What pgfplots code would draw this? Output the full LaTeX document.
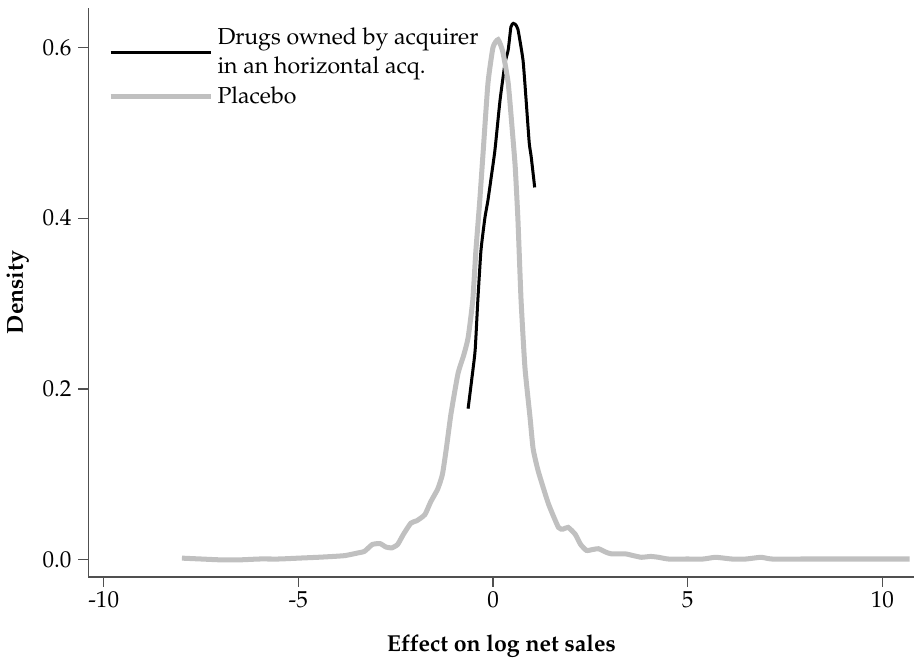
\documentclass[border=0pt]{standalone}
\usepackage[T1]{fontenc}
\usepackage{mathpazo}
\usepackage{pgfplots}
\pgfplotsset{compat=1.18}
\definecolor{placebo}{RGB}{192,192,192}
\definecolor{axisgray}{RGB}{80,80,80}

\begin{document}
\begin{tikzpicture}
\begin{axis}[
  scale only axis,
  width=411.5pt, height=283.5pt,
  font=\fontsize{11.5}{12.5}\selectfont,
  xmin=-10.39, xmax=10.82,
  ymin=-0.02, ymax=0.646,
  axis x line*=bottom, axis y line*=left,
  axis line style={axisgray, line width=0.7pt},
  tick style={axisgray, line width=0.6pt},
  tick align=outside, major tick length=5pt,
  xtick={-10,-5,0,5,10},
  ytick={0,0.2,0.4,0.6},
  /pgf/number format/assume math mode=true,
  yticklabel style={/pgf/number format/.cd, fixed, fixed zerofill, precision=1},
  xticklabel style={yshift=1.5pt, /pgf/number format/.cd, fixed},
  xlabel={\textbf{Effect on log net sales}},
  ylabel={\textbf{Density}},
  xlabel style={yshift=-6.5pt},
  ylabel style={yshift=0pt},
  legend style={at={(0.016,0.98)}, anchor=north west, draw=none, fill=none,
    row sep=1pt, font=\fontsize{11.5}{11}\selectfont},
  legend cell align=left,
  legend image code/.code={\draw[#1] (2pt,0pt) -- (45.5pt,0pt); \path (0pt,0pt) -- (50pt,0pt);},
]
\addplot[black, line width=1.5pt, smooth, tension=0.3] coordinates {
(-0.64,0.177) (-0.55,0.21) (-0.46,0.245) (-0.39,0.304) (-0.31,0.362) (-0.21,0.40)
(-0.13,0.421) (-0.04,0.45) (0.05,0.48) (0.18,0.538) (0.31,0.582) (0.39,0.597)
(0.46,0.624) (0.52,0.628) (0.57,0.627) (0.64,0.621) (0.77,0.585) (0.85,0.538)
(0.93,0.488) (0.98,0.472) (1.07,0.436)
};
\addlegendentry{\shortstack[l]{Drugs owned by acquirer\\in an horizontal acq.}}
\addplot[placebo, line width=2.5pt, smooth, tension=0.3] coordinates {
(-7.99,0.002) (-7.5,0.001) (-7,0.000) (-6.5,0.000) (-6,0.001) (-5.5,0.001)
(-5,0.002) (-4.5,0.003) (-4.1,0.004) (-3.8,0.005) (-3.48,0.008) (-3.3,0.010)
(-3.1,0.018) (-2.9,0.019) (-2.75,0.015) (-2.6,0.014) (-2.45,0.018) (-2.3,0.030)
(-2.11,0.043) (-1.95,0.046) (-1.75,0.053) (-1.6,0.068) (-1.42,0.083) (-1.3,0.100)
(-1.2,0.130) (-1.08,0.171) (-0.90,0.218) (-0.75,0.240) (-0.64,0.260) (-0.52,0.304)
(-0.44,0.362) (-0.34,0.421) (-0.25,0.48) (-0.13,0.558) (0.0,0.600) (0.13,0.609)
(0.25,0.595) (0.39,0.558) (0.50,0.50) (0.57,0.46) (0.64,0.398) (0.72,0.304)
(0.82,0.225) (0.95,0.167) (1.03,0.130) (1.16,0.104) (1.42,0.066) (1.68,0.038)
(1.8,0.036) (1.93,0.038) (2.11,0.030) (2.25,0.018) (2.40,0.011) (2.55,0.012)
(2.71,0.013) (2.9,0.009) (3.04,0.007) (3.4,0.007) (3.6,0.005) (3.81,0.003)
(4.05,0.004) (4.25,0.003) (4.5,0.001) (5.0,0.001) (5.4,0.001) (5.72,0.003)
(6.13,0.001) (6.5,0.001) (6.88,0.003) (7.16,0.001) (8,0.001) (9,0.001)
(10,0.001) (10.70,0.001)
};
\addlegendentry{Placebo}
\end{axis}
\path ([yshift=4pt]current axis.north) ([yshift=-1pt]current axis.south);
\end{tikzpicture}
\end{document}
